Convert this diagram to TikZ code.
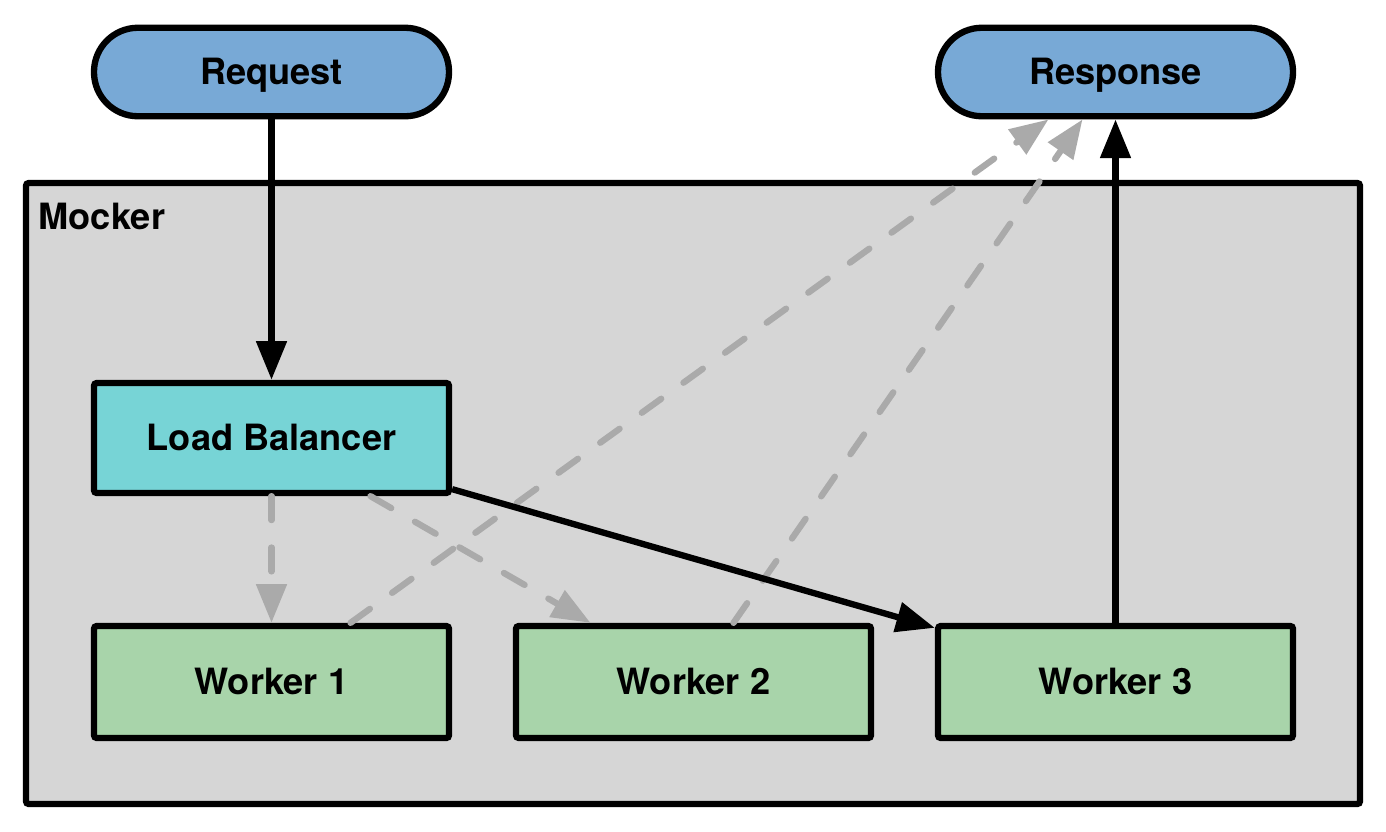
\documentclass[tikz,border=0pt]{standalone}
\usepackage{fontspec}
\setmainfont{TeX Gyre Heros}
\usetikzlibrary{calc,arrows.meta}
\definecolor{reqblue}{HTML}{78A9D6}
\definecolor{lbcyan}{HTML}{77D4D6}
\definecolor{wkgreen}{HTML}{A8D4AA}
\definecolor{mockgray}{HTML}{D6D6D6}
\definecolor{dashgray}{HTML}{AAAAAA}
\def\workerbox(#1,#2,#3,#4){
  \node[wk] (#1) at (#2,#3) {#4};
}

\begin{document}
\begin{tikzpicture}[
  font=\fontsize{10.3}{12}\selectfont\bfseries,
  pill/.style={draw, line width=1.8pt, fill=reqblue, rounded corners=0.44cm,
    minimum width=3.55cm, minimum height=0.885cm, inner sep=0pt,
    text height=0.72em, text depth=0pt},
  box/.style={draw, line width=1.8pt, rounded corners=0.8pt,
    minimum width=3.55cm, minimum height=1.12cm, inner sep=0pt,
    text height=0.72em, text depth=0pt},
  wk/.style={box, fill=wkgreen},
  solidarr/.style={line width=1.8pt, -{Triangle[length=11pt,width=8.4pt]}},
  dasharr/.style={line width=1.8pt, dashgray, line cap=round,
    dash pattern=on 6.8pt off 7.8pt, -{Triangle[length=11pt,width=8.4pt]}}
]
\useasboundingbox (0,0) rectangle (13.86,-8.31);
\draw[line width=1.8pt, rounded corners=0.8pt, fill=mockgray] (0.26,-1.83) rectangle (13.60,-8.04);
\node[anchor=base west, inner sep=0pt] (mocker) at (0.38,-2.29) {Mocker};

\node[pill] (req) at (2.715,-0.72) {Request};
\node[pill] (resp) at (11.155,-0.72) {Response};
\node[box, fill=lbcyan, minimum height=1.10cm] (lb) at (2.715,-4.38) {Load Balancer};
\workerbox(wk1,2.715,-6.82,Worker 1)
\workerbox(wk2,6.935,-6.82,Worker 2)
\workerbox(wk3,11.155,-6.82,Worker 3)

% idle routes
\draw[dasharr] (lb.south) -- (wk1.north);
\draw[dasharr] ($(lb.south)+(0.99,0)$) -- ($(wk2.north)+(-1.03,0)$);
\draw[dasharr] ($(wk1.north)+(0.79,0)$) -- ($(resp.south)+(-0.67,0)$);
\draw[dasharr] ($(wk2.north)+(0.40,0)$) -- ($(resp.south)+(-0.33,0)$);

% active route
\draw[solidarr] (req.south) -- (lb.north);
\draw[solidarr] ($(lb.south east)+(0,0.07)$) -- ($(wk3.north west)+(0,-0.05)$);
\draw[solidarr] (wk3.north) -- (resp.south);
\end{tikzpicture}
\end{document}
